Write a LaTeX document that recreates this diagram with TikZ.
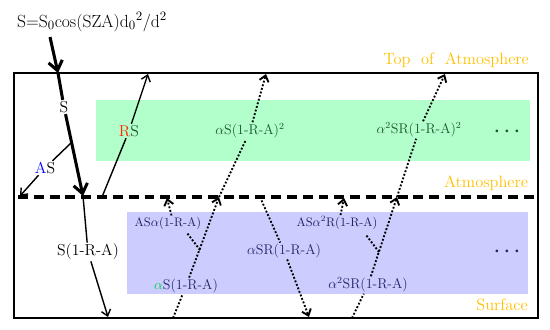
\documentclass[tikz,border=0pt]{standalone}
\usetikzlibrary{arrows.meta}

\definecolor{mint}{RGB}{179,255,204}
\definecolor{lilac}{RGB}{204,204,255}
\definecolor{dkgreen}{RGB}{25,85,45}
\definecolor{navy}{RGB}{35,35,100}
\definecolor{gold}{RGB}{255,192,0}
\definecolor{redR}{RGB}{255,40,0}
\definecolor{greenA}{RGB}{0,210,60}

\begin{document}
\begin{tikzpicture}[
    x=0.03cm, y=-0.03cm,
    % labels
    lbl/.style={inner sep=1pt, font=\fontsize{13.5}{14}\selectfont},
    glbl/.style={inner sep=1pt, text=dkgreen, font=\fontsize{12}{12}\selectfont},
    blbl/.style={inner sep=1pt, text=navy, font=\fontsize{12}{12}\selectfont},
    slbl/.style={inner sep=1pt, text=navy, font=\fontsize{10.5}{11}\selectfont},
    zone/.style={inner sep=1pt, text=gold, font=\fontsize{14}{14}\selectfont},
    more/.style={inner sep=1pt, font=\fontsize{8}{8}\selectfont},
    % fluxes
    bigflux/.style={line width=2.6pt},
    flux/.style={line width=1.2pt},
    multi/.style={line width=1.6pt, dash pattern=on 1.6pt off 1.6pt},
    bighead/.style={-{Straight Barb[length=8pt,width=12pt]}},
    head/.style={-{Straight Barb[length=5pt,width=8pt]}},
]
\useasboundingbox (0,0) rectangle (550,330);

% =========================================================
% Layers
% =========================================================
\fill[mint]  (96,100)  rectangle (530,161);
\fill[lilac] (127,212) rectangle (528,294);
\draw[line width=1.5pt] (14,73) rectangle (538,318);
\draw[line width=2.6pt, dash pattern=on 8.5pt off 5pt] (18,197) -- (538,197);

\node[zone] (toa)  at (456,60)  {Top\ \ of\ \ Atmosphere};
\node[zone] (atm)  at (486,183) {Atmosphere};
\node[zone] (surf) at (502,305) {Surface};

% =========================================================
% Incoming flux
% =========================================================
\node[lbl, font=\fontsize{15}{15}\selectfont] (inc) at (92,22)
    {S=S$_0$cos(SZA)d$_0{}^2$/d$^2$};

\coordinate (s0) at (50,37);
\coordinate (s1) at (58,73);
\coordinate (s2) at (83,196);
\coordinate (s3) at (108,317);
\node[lbl] (S)   at (64,107) {S};
\node[lbl] (SRA) at (88,252) {S(1-R-A)};

\draw[bigflux, bighead] (s0) -- (s1);
\draw[bigflux] (s1) -- (S);
\draw[bigflux, bighead] (S) -- (s2);
\draw[flux] (s2) -- (SRA);
\draw[flux, head] (SRA) -- (s3);

% absorbed and reflected
\coordinate (a0) at (71,143);
\coordinate (a1) at (20,196);
\node[lbl] (AS) at (45,168) {\textcolor{blue}{A}S};
\draw[flux] (a0) -- (AS);
\draw[flux, head] (AS) -- (a1);

\coordinate (r0) at (102,197);
\coordinate (r1) at (148,74);
\node[lbl] (RS) at (129,131) {\textcolor{redR}{R}\textcolor{dkgreen}{S}};
\draw[flux] (r0) -- (RS);
\draw[flux, head] (RS) -- (r1);

% =========================================================
% Multiple reflections
% =========================================================
% first surface reflection
\coordinate (b0) at (173,318);
\coordinate (b1) at (219,197);
\coordinate (b2) at (266,74);
\node[blbl] (aS)  at (186,286) {\textcolor{greenA}{$\alpha$}S(1-R-A)};
\node[glbl] (aS2) at (250,131) {$\alpha$S(1-R-A)$^2$};
\draw[multi] (b0) -- (aS);
\draw[multi, head] (aS) -- (b1);
\draw[multi] (b1) -- (aS2);
\draw[multi, head] (aS2) -- (b2);

\coordinate (c0)  at (200,250);
\coordinate (c0a) at (187,233);
\coordinate (c1)  at (167,198);
\node[slbl] (ASa) at (168,223) {AS$\alpha$(1-R-A)};
\draw[multi] (c0) -- (c0a);
\draw[multi, head] ([xshift=3pt]ASa.north) -- (c1);

% back to surface
\coordinate (d0) at (260,197);
\coordinate (d1) at (309,317);
\node[blbl] (aSR) at (284,251) {$\alpha$SR(1-R-A)};
\draw[multi] (d0) -- (aSR);
\draw[multi, head] (aSR) -- (d1);

% second surface reflection
\coordinate (e0) at (352,318);
\coordinate (e1) at (397,197);
\coordinate (e2) at (445,74);
\node[blbl] (a2SR)  at (368,285) {$\alpha^2$SR(1-R-A)};
\node[glbl] (a2SR2) at (419,130) {$\alpha^2$SR(1-R-A)$^2$};
\draw[multi] (e0) -- (a2SR);
\draw[multi, head] (a2SR) -- (e1);
\draw[multi] (e1) -- (a2SR2);
\draw[multi, head] (a2SR2) -- (e2);

\coordinate (f0)  at (379,252);
\coordinate (f0a) at (366,235);
\coordinate (f1)  at (344,198);
\node[slbl] (ASa2) at (337,223) {AS$\alpha^2$R(1-R-A)};
\draw[multi] (f0) -- (f0a);
\draw[multi, head] ([xshift=3pt]ASa2.north) -- (f1);

% and so on
\node[more, text=dkgreen] (moreG) at (507,132) {\textbullet\hspace{2pt}\textbullet\hspace{2pt}\textbullet};
\node[more, text=navy]    (moreB) at (507,252) {\textbullet\hspace{2pt}\textbullet\hspace{2pt}\textbullet};

\end{tikzpicture}
\end{document}
